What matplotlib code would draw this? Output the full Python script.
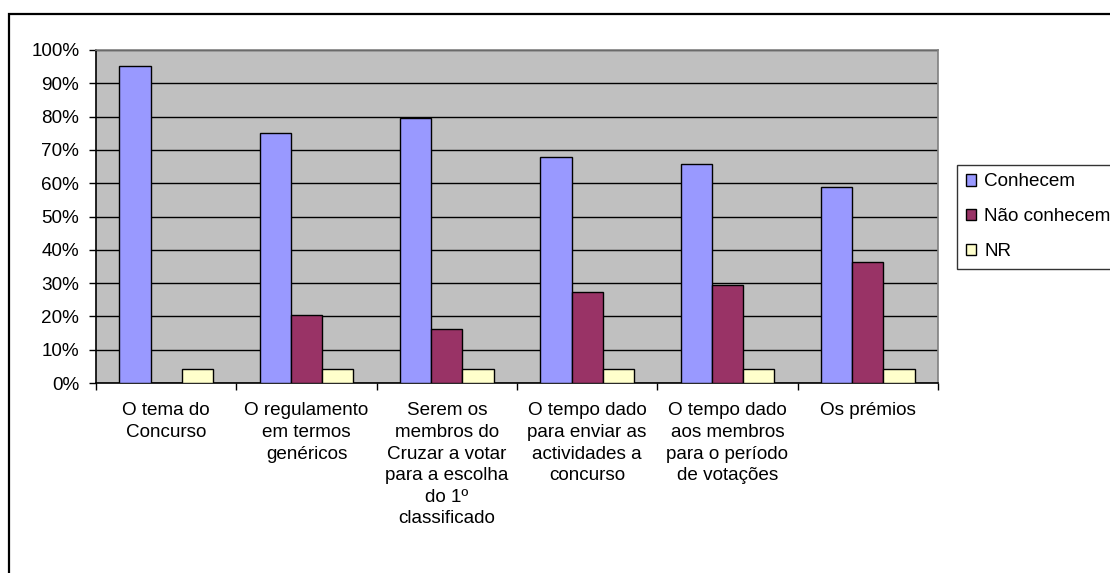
import matplotlib.pyplot as plt
import matplotlib.patches as mpatches
import numpy as np

categories = [
    "O tema do\nConcurso",
    "O regulamento\nem termos\ngenéricos",
    "Serem os\nmembros do\nCruzar a votar\npara a escolha\ndo 1º\nclassificado",
    "O tempo dado\npara enviar as\nactividades a\nconcurso",
    "O tempo dado\naos membros\npara o período\nde votações",
    "Os prémios",
]
series_names = ["Conhecem", "Não conhecem", "NR"]
conhecem = [95.2, 75.0, 79.7, 68.0, 65.9, 58.9]
nao_conhecem = [0.0, 20.4, 16.2, 27.2, 29.4, 36.2]
nr = [4.3, 4.3, 4.3, 4.3, 4.3, 4.3]
y_ticks = [0, 10, 20, 30, 40, 50, 60, 70, 80, 90, 100]

colors = ["#9999FF", "#993366", "#FFFFCC"]

plt.rcParams["font.family"] = ["Liberation Sans", "DejaVu Sans"]
FS = 13.6

W, H = 1110, 573
fig = plt.figure(figsize=(W / 100, H / 100), dpi=100)
fig.patch.set_facecolor("white")

# outer chart frame (runs off right and bottom edge)
fig.patches.append(mpatches.Rectangle(
    (8.5 / W, -0.1), 1.2, 1 - 13.5 / H + 0.1,
    transform=fig.transFigure, fill=False, edgecolor="black", linewidth=1.6))

ax = fig.add_axes([96 / W, 1 - 383 / H, (938 - 96) / W, (383 - 50) / H])
ax.set_facecolor("#C0C0C0")

x = np.arange(len(categories))
bw = 1 / 4.5
for i, (vals, c) in enumerate(zip([conhecem, nao_conhecem, nr], colors)):
    ax.bar(x + (i - 1) * bw, vals, width=bw, color=c, edgecolor="black",
           linewidth=1.0, label=series_names[i], zorder=3)

ax.set_xlim(-0.5, len(categories) - 0.5)
ax.set_ylim(0, 100)
ax.set_yticks(y_ticks)
ax.set_yticklabels([f"{v}%" for v in y_ticks], fontsize=FS)
ax.yaxis.grid(True, color="black", linewidth=1.0)
ax.set_axisbelow(True)

ax.set_xticks(np.arange(-0.5, len(categories), 1.0))
ax.set_xticklabels([])
ax.set_xticks(x, minor=True)
ax.set_xticklabels(categories, minor=True, fontsize=FS, linespacing=1.35,
                   va="top", ha="center")
ax.tick_params(axis="x", which="minor", length=0, pad=14)
ax.tick_params(axis="x", which="major", length=5, width=1, direction="out")
ax.tick_params(axis="y", length=5, width=1, direction="out", pad=7)

for s in ["left", "bottom"]:
    ax.spines[s].set_color("black")
    ax.spines[s].set_linewidth(1.2)
for s in ["top", "right"]:
    ax.spines[s].set_color("#808080")
    ax.spines[s].set_linewidth(1.2)

leg = ax.legend(loc="upper left", bbox_to_anchor=(957 / W, 1 - 165 / H),
                bbox_transform=fig.transFigure, fontsize=FS, frameon=True,
                fancybox=False, shadow=False, borderaxespad=0,
                handlelength=0.55, handleheight=0.55, handletextpad=0.45,
                labelspacing=0.95, borderpad=0.45)
leg.get_frame().set_edgecolor("black")
leg.get_frame().set_linewidth(1.0)

fig.savefig("out.png", dpi=100)
